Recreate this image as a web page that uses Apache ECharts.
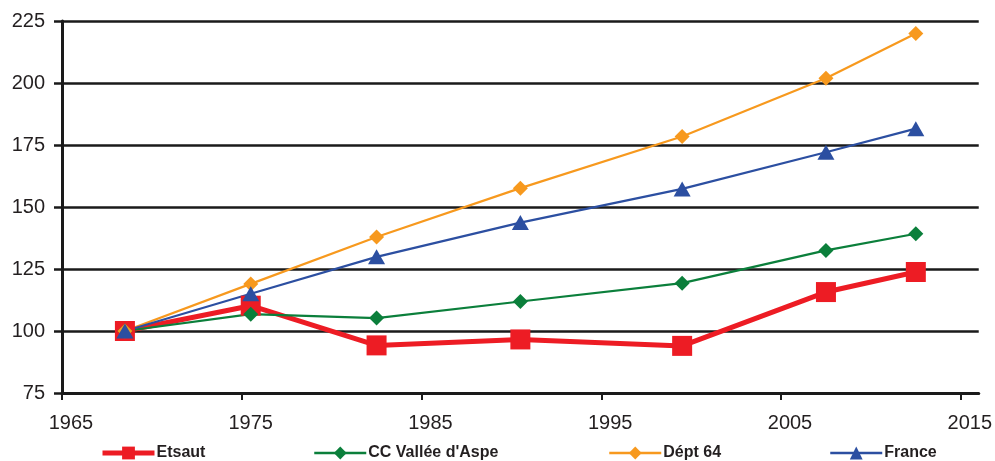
<!DOCTYPE html>
<html>
<head>
<meta charset="utf-8">
<script src="https://cdn.jsdelivr.net/npm/echarts@6/dist/echarts.min.js"></script>
<style>
  html, body { margin: 0; padding: 0; background: #fff; }
  #chart { width: 995px; height: 461px; }
</style>
</head>
<body>
<div id="chart"></div>
<script>
// Census years and population indices (base 100 in 1968)
const years = [1968, 1975, 1982, 1990, 1999, 2007, 2012];
const etsaut = [100, 110.2, 94.2, 96.6, 94.0, 115.7, 123.8];
const ccAspe = [100, 106.8, 105.2, 111.9, 119.3, 132.5, 139.2];
const dept64 = [100, 119.0, 137.9, 157.6, 178.4, 201.9, 220.0];
const france = [100, 115.0, 129.9, 143.7, 157.3, 172.1, 181.6];

const seriesNames = ['Etsaut', 'CC Vallée d\'Aspe', 'Dépt 64', 'France'];
const xTickLabels = [1965, 1975, 1985, 1995, 2005, 2015];

const FONT = '"Liberation Sans", Arial, sans-serif';
const INK = '#231f20';
const colors = { red: '#ed1c24', green: '#0b7f3b', orange: '#f7991e', blue: '#2c4fa1' };

const pairs = vals => years.map((y, i) => [y, vals[i]]);

const chart = echarts.init(document.getElementById('chart'), null, { renderer: 'canvas' });

// One legend per series so each entry sits at its own horizontal position
function legendAt(name, left, lineWidth) {
  return {
    data: [name],
    left: left,
    top: 445,
    itemWidth: 52,
    itemHeight: 16,
    selectedMode: false,
    padding: 0,
    lineStyle: { width: lineWidth },
    textStyle: { fontFamily: FONT, fontSize: 16, fontWeight: 'bold', color: INK, padding: [4, 0, 0, -3] }
  };
}

chart.setOption({
  animation: false,
  backgroundColor: '#fff',
  grid: { left: 62, right: 14, top: 21, bottom: 68 },
  legend: [
    legendAt(seriesNames[0], 100, 5),
    legendAt(seriesNames[1], 313, 2.5),
    legendAt(seriesNames[2], 608, 2.5),
    legendAt(seriesNames[3], 829, 2.5)
  ],
  xAxis: {
    type: 'value',
    min: 1964.5,
    max: 2015.5,
    axisLine: { show: true, lineStyle: { color: '#1a1a1a', width: 3 } },
    axisTick: {
      show: true, length: 7, inside: false,
      customValues: xTickLabels.map(v => v - 0.5),
      lineStyle: { color: '#1a1a1a', width: 2 }
    },
    axisLabel: {
      customValues: xTickLabels,
      formatter: v => String(v),
      fontFamily: FONT, fontSize: 20, color: INK, margin: 20
    },
    splitLine: { show: false }
  },
  yAxis: {
    type: 'value',
    min: 75,
    max: 225,
    interval: 25,
    axisLine: { show: true, lineStyle: { color: '#1a1a1a', width: 3 } },
    axisTick: { show: true, length: 8, lineStyle: { color: '#1a1a1a', width: 2.5 } },
    axisLabel: { fontFamily: FONT, fontSize: 20, color: INK, margin: 17 },
    splitLine: { show: true, lineStyle: { color: '#1a1a1a', width: 2.5 } }
  },
  series: [
    {
      name: seriesNames[0], type: 'line', data: pairs(etsaut),
      symbol: 'rect', symbolSize: 20,
      lineStyle: { color: colors.red, width: 5 },
      itemStyle: { color: colors.red }
    },
    {
      name: seriesNames[1], type: 'line', data: pairs(ccAspe),
      symbol: 'diamond', symbolSize: 15,
      lineStyle: { color: colors.green, width: 2.2 },
      itemStyle: { color: colors.green }
    },
    {
      name: seriesNames[2], type: 'line', data: pairs(dept64),
      symbol: 'diamond', symbolSize: 15,
      lineStyle: { color: colors.orange, width: 2.2 },
      itemStyle: { color: colors.orange }
    },
    {
      name: seriesNames[3], type: 'line', data: pairs(france),
      symbol: 'triangle', symbolSize: [17, 15],
      lineStyle: { color: colors.blue, width: 2.2 },
      itemStyle: { color: colors.blue }
    }
  ]
});
</script>
</body>
</html>
